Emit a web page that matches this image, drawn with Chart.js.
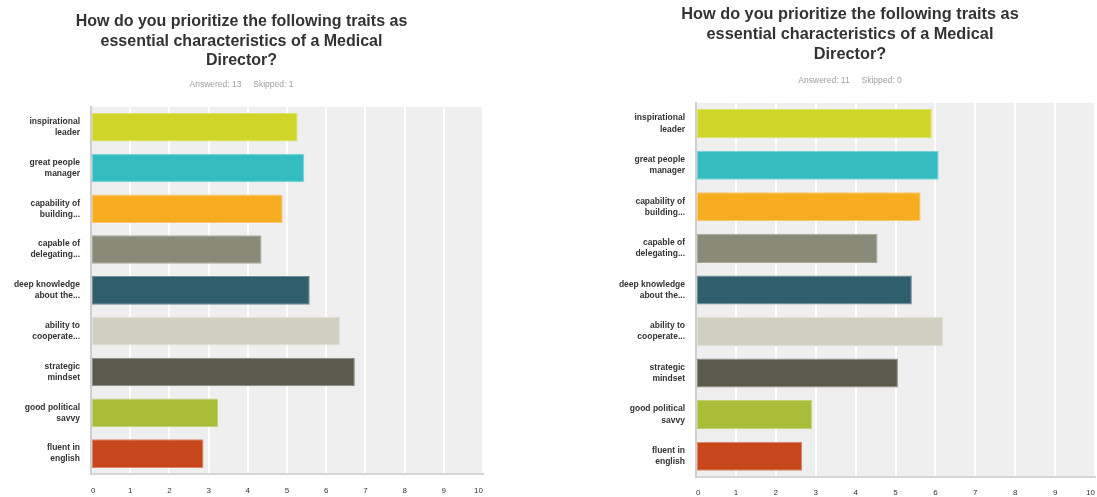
<!DOCTYPE html>
<html lang="en">
<head>
    <meta charset="UTF-8">
    <title>Medical Director traits</title>
    <script src="https://cdn.jsdelivr.net/npm/chart.js"></script>
    <style>
        body { margin: 0; background: #fff; }
        .painel { position: absolute; top: 0; }
        #painel_a { left: 0; width: 486px; height: 497px; }
        #painel_b { left: 605px; width: 492px; height: 497px; }
    </style>
</head>
<body>
    <div class="painel" id="painel_a"><canvas id="grafico_a"></canvas></div>
    <div class="painel" id="painel_b"><canvas id="grafico_b"></canvas></div>

<script>
    const pergunta = ['How do you prioritize the following traits as', 'essential characteristics of a Medical', 'Director?'];
    const traits = [
        ['inspirational', 'leader'],
        ['great people', 'manager'],
        ['capability of', 'building...'],
        ['capable of', 'delegating...'],
        ['deep knowledge', 'about the...'],
        ['ability to', 'cooperate...'],
        ['strategic', 'mindset'],
        ['good political', 'savvy'],
        ['fluent in', 'english']
    ];
    const cores = ['#d0d527', '#33bdc0', '#f6ae20', '#8a8a78', '#2f5f6c', '#d0cfc0', '#5c5a4c', '#a9bd38', '#c7461c'];
    const bordas = ['#dde26a', '#74d3d5', '#f9c870', '#a9a99b', '#6f8f98', '#dfdfd4', '#8b8a80', '#c4d37a', '#d98566'];
    const notas_a = [5.27, 5.44, 4.89, 4.35, 5.58, 6.35, 6.73, 3.24, 2.87];
    const notas_b = [5.91, 6.08, 5.63, 4.55, 5.41, 6.19, 5.06, 2.91, 2.66];
    const ticks_x = [0, 1, 2, 3, 4, 5, 6, 7, 8, 9, 10];

    // fundo cinza da area do grafico
    const fundo_area = {
        id: 'fundo_area',
        beforeDraw(chart) {
            const a = chart.chartArea;
            const ctx = chart.ctx;
            ctx.save();
            ctx.fillStyle = '#efefef';
            ctx.fillRect(a.left, a.top, a.right - a.left, a.bottom - a.top);
            ctx.restore();
        }
    };

    function montar(id, notas, respondidas, puladas, cfg) {
        return new Chart(document.getElementById(id), {
            type: 'bar',
            data: {
                labels: traits,
                datasets: [{
                    data: notas,
                    backgroundColor: cores,
                    borderColor: bordas,
                    borderWidth: 1,
                    borderSkipped: false,
                    barPercentage: 0.7,
                    categoryPercentage: 1
                }]
            },
            options: {
                indexAxis: 'y',
                responsive: true,
                maintainAspectRatio: false,
                animation: false,
                layout: { padding: { top: cfg.topo, right: cfg.direita, bottom: 0, left: 0 } },
                plugins: {
                    legend: { display: false },
                    tooltip: { enabled: false },
                    title: {
                        display: true,
                        text: pergunta,
                        color: '#333333',
                        font: { family: 'Liberation Sans, Arial', size: cfg.fonte_titulo, weight: 'bold', lineHeight: 1.22 },
                        padding: { top: 0, bottom: cfg.gap_titulo }
                    },
                    subtitle: {
                        display: true,
                        text: 'Answered: ' + respondidas + '     Skipped: ' + puladas,
                        color: '#a0a0a0',
                        font: { family: 'Liberation Sans, Arial', size: 8.5 },
                        padding: { top: 0, bottom: cfg.gap_sub }
                    }
                },
                scales: {
                    x: {
                        min: 0,
                        max: 10,
                        afterBuildTicks(scale) { scale.ticks = ticks_x.map(v => ({ value: v })); },
                        afterFit(scale) {
                            scale.height = cfg.altura_x;
                            scale.paddingLeft = 0;
                            scale.paddingRight = 0;
                        },
                        grid: { color: '#ffffff', lineWidth: 2, drawTicks: false },
                        border: { display: true, color: '#d6d6d6', width: 2 },
                        ticks: { color: '#333333', align: 'inner', padding: cfg.pad_x, font: { family: 'Liberation Sans, Arial', size: 8 } }
                    },
                    y: {
                        grid: { display: false },
                        border: { display: true, color: '#cfcfcf', width: 2 },
                        afterFit(scale) { scale.width = 91; },
                        ticks: { color: '#333333', padding: 3, font: { family: 'Liberation Sans, Arial', size: 8.5, weight: 'bold', lineHeight: 1.3 } }
                    }
                }
            },
            plugins: [fundo_area]
        });
    }

    montar('grafico_a', notas_a, 13, 1, { topo: 12, direita: 3, fonte_titulo: 16, gap_titulo: 9, gap_sub: 17, altura_x: 23, pad_x: 12 });
    montar('grafico_b', notas_b, 11, 0, { topo: 5, direita: 2, fonte_titulo: 16.3, gap_titulo: 11, gap_sub: 17, altura_x: 20, pad_x: 11 });
</script>
</body>
</html>
